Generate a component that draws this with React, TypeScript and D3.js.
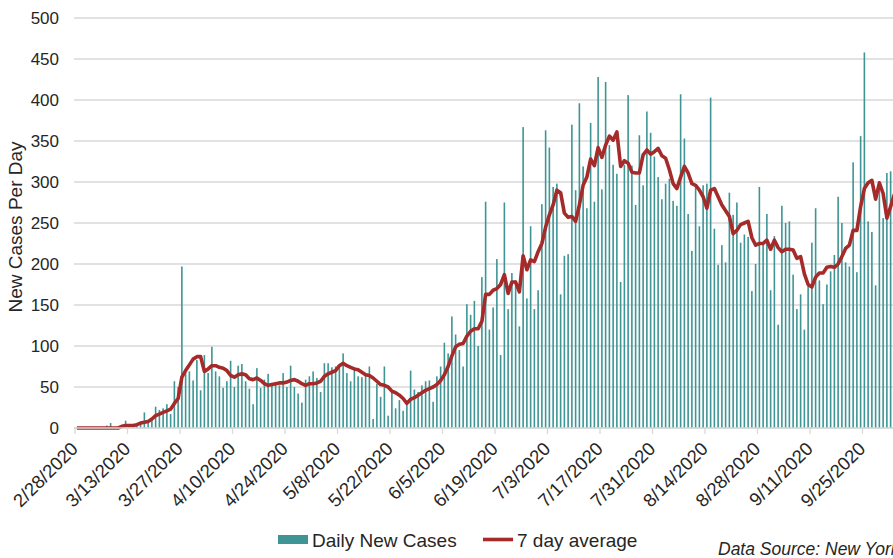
import React from "react";
import * as d3 from "d3";

const startDate = new Date(2020, 1, 28);

// Daily new cases, one per day from 2/28/2020
const dailyCases: number[] = [
  0, 0, 0, 0, 0, 0, 0, 0, 3, 6,
  1, 1, 2, 9, 2, 3, 5, 8, 19, 7,
  12, 26, 22, 24, 29, 17, 57, 50, 197, 67,
  69, 58, 83, 46, 89, 67, 99, 69, 63, 49,
  57, 82, 50, 76, 78, 57, 48, 29, 73, 49,
  59, 66, 55, 56, 52, 67, 50, 76, 50, 42,
  31, 59, 63, 69, 61, 44, 79, 79, 74, 75,
  73, 91, 67, 57, 71, 63, 62, 65, 75, 11,
  54, 38, 75, 15, 46, 24, 34, 21, 30, 70,
  47, 44, 52, 57, 58, 32, 63, 75, 104, 91,
  136, 114, 95, 75, 151, 138, 155, 100, 184, 276,
  120, 147, 206, 89, 275, 145, 189, 180, 124, 367,
  158, 246, 145, 168, 273, 363, 342, 294, 298, 163,
  210, 212, 370, 290, 396, 319, 268, 372, 276, 428,
  291, 422, 345, 321, 310, 178, 321, 406, 320, 272,
  357, 296, 386, 360, 331, 306, 279, 298, 304, 277,
  271, 407, 353, 261, 216, 294, 246, 296, 298, 403,
  243, 199, 223, 202, 287, 260, 275, 226, 236, 233,
  167, 200, 294, 225, 261, 168, 234, 126, 271, 250,
  252, 187, 145, 163, 120, 174, 226, 268, 180, 151,
  175, 191, 211, 282, 250, 202, 197, 324, 190, 356,
  458, 252, 239, 174, 300, 256, 311, 313,
];

// 7 day average
const sevenDayAvg: number[] = [
  0, 0, 0, 0, 0, 0, 0, 0, 0, 0,
  0, 0, 2, 3, 3, 3, 4, 6, 7, 8,
  11, 15, 17, 19, 21, 23, 30, 36, 62, 70,
  77, 84, 87, 87, 69, 72, 76, 76, 74, 73,
  70, 64, 62, 65, 66, 65, 60, 59, 61, 58,
  54, 52, 53, 54, 55, 55, 56, 58, 59, 57,
  54, 52, 54, 54, 55, 57, 63, 66, 68, 70,
  76, 79, 76, 74, 72, 71, 68, 65, 64, 61,
  57, 53, 52, 50, 45, 43, 40, 36, 30, 35,
  37, 40, 43, 46, 48, 50, 53, 58, 65, 75,
  88, 99, 102, 103, 112, 118, 121, 121, 130, 163,
  163, 168, 170, 175, 187, 164, 178, 178, 166, 210,
  193, 205, 203, 215, 225, 245, 260, 272, 290, 287,
  262, 257, 258, 252, 272, 296, 306, 328, 320, 342,
  330, 345, 356, 351, 361, 319, 326, 323, 312, 311,
  311, 333, 339, 334, 337, 341, 332, 329, 315, 298,
  292, 306, 319, 311, 298, 296, 290, 282, 268, 290,
  292, 282, 272, 265, 258, 237, 241, 248, 250, 252,
  232, 223, 225, 225, 229, 218, 229, 220, 215, 218,
  218, 217, 207, 209, 188, 175, 172, 184, 189, 189,
  196, 197, 196, 200, 209, 219, 223, 241, 241, 270,
  292, 299, 302, 279, 299, 286, 256, 270, 285,
];

const xTickLabels: string[] = [
  "2/28/2020", "3/13/2020", "3/27/2020", "4/10/2020", "4/24/2020",
  "5/8/2020", "5/22/2020", "6/5/2020", "6/19/2020", "7/3/2020",
  "7/17/2020", "7/31/2020", "8/14/2020", "8/28/2020", "9/11/2020",
  "9/25/2020",
];
const yTicks: number[] = [0, 50, 100, 150, 200, 250, 300, 350, 400, 450, 500];

const W = 893;
const H = 558;
const plotLeft = 75;
const plotRight = 893;
const dayWidth = 3.75;
const y0 = 428;
const yTop = 18;

const BAR_COLOR = "#3f9595";
const LINE_COLOR = "#a52a2a";
const TEXT_COLOR = "#262626";
const FONT = "'Liberation Sans', Arial, sans-serif";

export default function App() {
  const dates = dailyCases.map((_, i) => d3.timeDay.offset(startDate, i));
  const dayScale = d3
    .scaleTime()
    .domain([startDate, d3.timeDay.offset(startDate, 1)])
    .range([plotLeft, plotLeft + dayWidth]);
  const x = (d: Date, offset = 0) => dayScale(d) + offset * dayWidth;
  const y = d3.scaleLinear().domain([0, 500]).range([y0, yTop]);

  const avgDates = sevenDayAvg.map((_, i) => d3.timeDay.offset(startDate, i));
  const line = d3
    .line<number>()
    .x((_, i) => x(avgDates[i], 0.5))
    .y((v) => y(v))
    .curve(d3.curveLinear);

  const tickDates = xTickLabels.map((s) => d3.timeParse("%m/%d/%Y")(s) as Date);

  return (
    <svg
      width={W}
      height={H}
      style={{ position: "absolute", left: 0, top: 0, background: "#fff" }}
      fontFamily={FONT}
    >
      <defs>
        <clipPath id="plotclip">
          <rect x={plotLeft - 2} y={0} width={plotRight - plotLeft + 2} height={y0 + 2} />
        </clipPath>
      </defs>
      {/* gridlines */}
      {yTicks.map((t) => (
        <line key={t} x1={plotLeft - 1} x2={plotRight} y1={y(t)} y2={y(t)} stroke="#d9d9d9" strokeWidth={1.3} />
      ))}
      {/* y labels */}
      {yTicks.map((t) => (
        <text key={"l" + t} x={59} y={y(t)} dy="0.36em" textAnchor="end" fontSize={17} fill={TEXT_COLOR}>
          {t}
        </text>
      ))}
      <text
        transform={`translate(22,227) rotate(-90)`}
        textAnchor="middle"
        fontSize={19}
        fill={TEXT_COLOR}
      >
        New Cases Per Day
      </text>
      {/* bars */}
      <g clipPath="url(#plotclip)">
        {dailyCases.map((v, i) => (
          <rect
            key={i}
            x={x(dates[i], 0.5) - 0.8}
            width={1.6}
            y={y(v)}
            height={y0 - y(v)}
            fill={BAR_COLOR}
          />
        ))}
        <path d={line(sevenDayAvg) || ""} fill="none" stroke={LINE_COLOR} strokeWidth={3.6} strokeLinejoin="round" />
      </g>
      {/* x axis */}
      <line x1={plotLeft - 1} x2={plotRight} y1={y0} y2={y0} stroke="#d9d9d9" strokeWidth={1.3} />
      {tickDates.map((d, i) => (
        <g key={i}>
          <line x1={x(d)} x2={x(d)} y1={y0} y2={y0 + 6} stroke="#d9d9d9" strokeWidth={1.3} />
          <text
            transform={`translate(${x(d) + 4},${y0 + 22}) rotate(-45)`}
            textAnchor="end"
            fontSize={18.5}
            fill={TEXT_COLOR}
          >
            {xTickLabels[i]}
          </text>
        </g>
      ))}
      {/* legend */}
      <rect x={278} y={535} width={30} height={9} fill={BAR_COLOR} />
      <text x={312} y={547} fontSize={19} fill={TEXT_COLOR}>Daily New Cases</text>
      <line x1={483} x2={513} y1={539.5} y2={539.5} stroke={LINE_COLOR} strokeWidth={3.6} />
      <text x={517} y={547} fontSize={19} fill={TEXT_COLOR}>7 day average</text>
      <text x={718} y={555} fontSize={17.5} fontStyle="italic" fill={TEXT_COLOR}>Data Source: New York</text>
    </svg>
  );
}
